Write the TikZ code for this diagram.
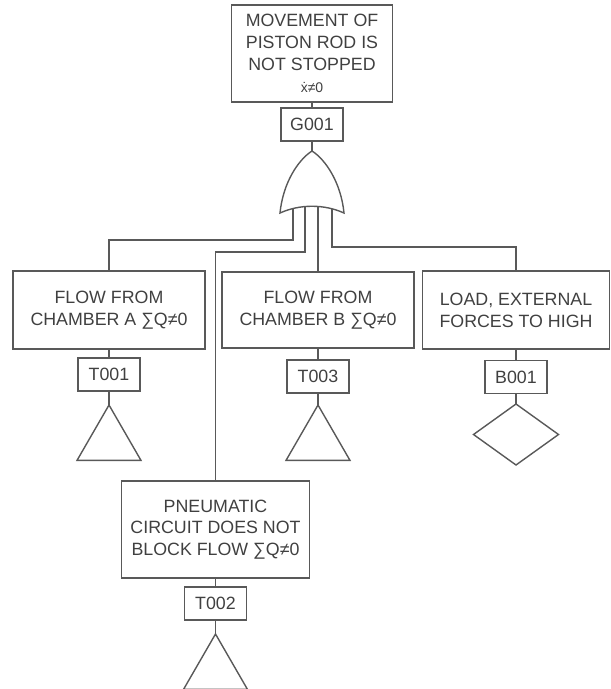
\documentclass[tikz,border=0pt]{standalone}
\usepackage{fontspec}
\setmainfont{Liberation Sans}
\usetikzlibrary{shapes.geometric}

\begin{document}
\begin{tikzpicture}[x=0.5pt,y=-0.5pt,
  every node/.style={font=\fontsize{8.9}{10.9}\selectfont, text=black!75},
  link/.style={draw=black!65, line width=0.7pt},
  evbox/.style={link, align=center, inner sep=0pt},
  idbox/.style={link, inner sep=0pt, minimum width=31pt, minimum height=16.5pt},
  xfer/.style={link, regular polygon, regular polygon sides=3, minimum size=36.95pt, inner sep=0pt, outer sep=0pt, anchor=north},
  basic/.style={link, diamond, minimum width=42.5pt, minimum height=30.5pt, inner sep=0pt, outer sep=0pt}]
  \useasboundingbox (0,0) rectangle (610,689);

  \node[evbox, minimum width=80.5pt, minimum height=48.5pt] (top) at (312,53.5)
    {MOVEMENT OF\\PISTON ROD IS\\NOT STOPPED\\{\fontsize{7}{8}\selectfont\.{x}≠0}};
  \node[idbox] (g001) at (312,124.5) {G001};

  \coordinate (orgate) at (312,151);
  \draw[link] (280,213) .. controls (283,183) and (298,160) .. (orgate)
    .. controls (326,160) and (341,183) .. (344,213)
    .. controls (324,204) and (300,204) .. cycle;
  \coordinate (legA) at (293,209);
  \coordinate (legP) at (305,207);
  \coordinate (legB) at (318,207);
  \coordinate (legC) at (332,209);

  \node[evbox, minimum width=96pt, minimum height=39pt] (boxA) at (109,310)
    {FLOW FROM\\CHAMBER A ∑Q≠0};
  \node[idbox] (t001) at (109,374.5) {T001};
  \node[xfer] (trA) at (109,405) {};

  \node[evbox, minimum width=96pt, minimum height=38pt] (boxB) at (318,310)
    {FLOW FROM\\CHAMBER B ∑Q≠0};
  \node[idbox] (t003) at (318,376.5) {T003};
  \node[xfer] (trB) at (318,405) {};

  \node[evbox, minimum width=93.5pt, minimum height=39pt] (boxC) at (516,310)
    {LOAD, EXTERNAL\\FORCES TO HIGH};
  \node[idbox] (b001) at (516,377) {B001};
  \node[basic] (dmC) at (516,434.5) {};

  \node[evbox, minimum width=94pt, minimum height=48.5pt] (pneu) at (215.5,529.5)
    {PNEUMATIC\\CIRCUIT DOES NOT\\BLOCK FLOW ∑Q≠0};
  \node[idbox] (t002) at (215.5,603.5) {T002};
  \node[xfer] (trP) at (215.5,634) {};

  \draw[link] (top) -- (g001);
  \draw[link] (g001) -- (orgate);
  \draw[link] (legA) -- (293,240) -| (boxA.north);
  \draw[link] (legP) -- (305,252) -| (pneu.north);
  \draw[link] (legB) -- (boxB.north);
  \draw[link] (legC) -- (332,247) -| (boxC.north);

  \draw[link] (boxA) -- (t001);
  \draw[link] (t001) -- (trA.north);
  \draw[link] (boxB) -- (t003);
  \draw[link] (t003) -- (trB.north);
  \draw[link] (boxC) -- (b001);
  \draw[link] (b001) -- (dmC.north);
  \draw[link] (pneu) -- (t002);
  \draw[link] (t002) -- (trP.north);
\end{tikzpicture}
\end{document}
